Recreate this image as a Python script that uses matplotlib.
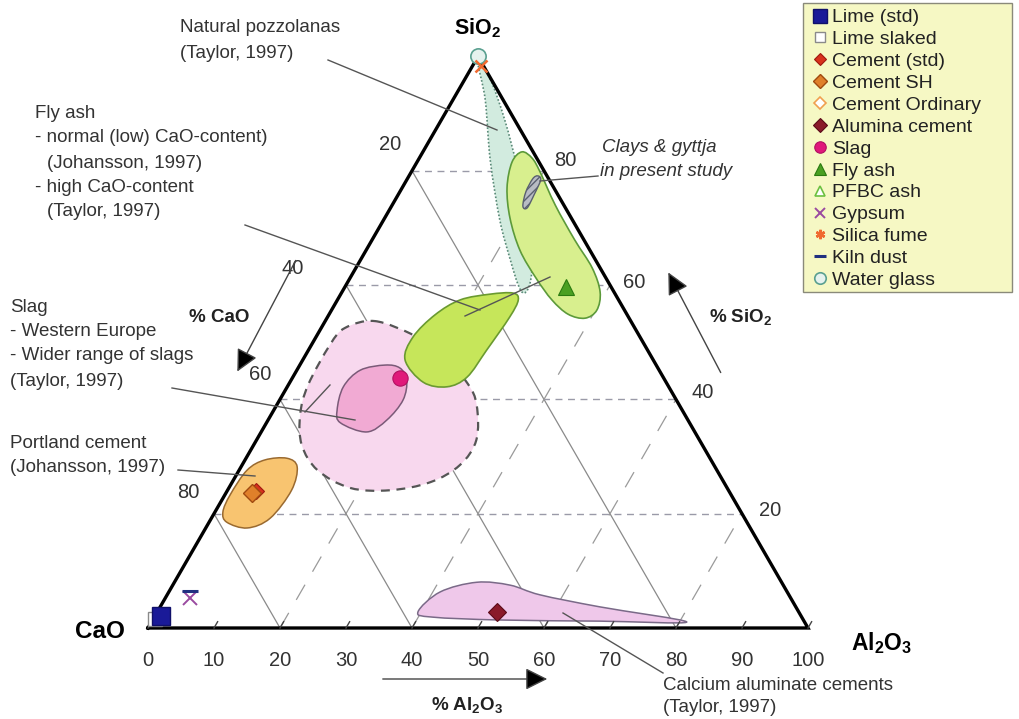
import numpy as np
import matplotlib
matplotlib.use("Agg")
import matplotlib.pyplot as plt
from matplotlib.path import Path
from matplotlib.patches import PathPatch, Rectangle, FancyArrowPatch
from matplotlib.lines import Line2D

plt.rcParams['font.family'] = ['Liberation Sans', 'DejaVu Sans']
plt.rcParams['mathtext.fontset'] = 'custom'
plt.rcParams['mathtext.rm'] = 'Liberation Sans'
plt.rcParams['mathtext.bf'] = 'Liberation Sans:bold'

# ---- compositions (Al2O3 %, SiO2 %); CaO is the remainder to 100 % ----
pozzolana_al2o3 = [0.5, 4.9, 10.9, 17.6, 22.7, 26.1, 27.7, 27.7, 25.6, 21.3, 16.0, 9.6, 3.7]
pozzolana_sio2 = [99.0, 92.4, 81.9, 71.4, 64.4, 60.0, 58.6, 60.4, 65.3, 72.3, 80.1, 88.9, 96.2]

flyash_low_al2o3 = [15.0, 17.1, 19.5, 24.7, 30.7, 35.8, 39.1, 40.2, 39.1, 36.2, 32.5, 28.2, 23.3, 19.0, 15.9, 14.4]
flyash_low_sio2 = [83.3, 82.2, 79.8, 74.0, 67.9, 63.0, 58.8, 55.6, 54.2, 54.9, 57.4, 61.2, 66.1, 71.7, 77.0, 81.5]

flyash_high_al2o3 = [26.0, 27.4, 27.6, 27.0, 26.4, 24.2, 20.2, 15.5, 14.7, 16.1, 18.6, 22.6]
flyash_high_sio2 = [58.6, 57.4, 54.4, 48.6, 43.9, 42.2, 43.0, 46.9, 50.9, 54.8, 57.4, 58.4]

slag_wide_al2o3 = [7.5, 14.5, 20.1, 26.9, 30.3, 33.3, 33.0, 30.0, 24.6, 18.4, 11.9, 7.3, 4.4, 3.0, 2.8, 3.6]
slag_wide_sio2 = [53.7, 51.3, 48.3, 42.9, 39.0, 32.9, 28.5, 25.5, 24.1, 24.5, 27.6, 32.0, 37.3, 42.5, 49.5, 52.5]

slag_we_al2o3 = [9.6, 8.5, 9.6, 11.2, 16.0, 18.0, 18.7, 17.5, 15.4, 12.9]
slag_we_sio2 = [45.1, 42.2, 38.1, 35.9, 34.3, 36.4, 39.9, 43.4, 45.5, 46.0]

portland_al2o3 = [1.2, 3.0, 6.2, 8.5, 9.7, 8.9, 6.3, 2.7, 1.2, 0.8]
portland_sio2 = [27.6, 29.4, 29.7, 28.2, 24.1, 19.2, 17.5, 18.5, 20.3, 23.3]

ca_aluminate_al2o3 = [39.5, 41.1, 45.8, 51.1, 56.5, 66.6, 81.1, 67.9, 52.6, 42.2]
ca_aluminate_sio2 = [2.8, 6.3, 8.0, 7.5, 5.8, 3.7, 1.05, 1.2, 1.4, 1.9]

clay_al2o3 = [19.5, 20.3, 20.6, 20.7, 19.9, 19.1, 19.0]
clay_sio2 = [79.1, 78.4, 75.8, 73.5, 73.8, 76.3, 78.6]

# ---- individual materials ----
material_names = ['Lime (std)', 'Lime slaked', 'Cement (std)', 'Cement SH', 'Cement Ordinary',
                  'Alumina cement', 'Slag', 'Fly ash', 'PFBC ash', 'Gypsum', 'Silica fume',
                  'Kiln dust', 'Water glass']
material_al2o3 = [0.9, 0.2, 4.3, 4.0, None, 51.5, 16.3, 33.5, None, 3.7, 1.3, 3.1, 0.0]
material_sio2 = [2.1, 1.6, 24.0, 23.6, None, 2.8, 43.7, 59.7, None, 5.2, 98.3, 6.5, 100.0]

grid_values = [20, 40, 60, 80]
bottom_ticks = list(range(0, 101, 10))

# marker style per material: (marker, size, face, edge, edge width, zorder)
styles = {
    'Lime (std)': ('s', 13, '#1a1a98', '#10106a', 1.0, 6.5),
    'Lime slaked': ('s', 10, 'white', '#8a8a8a', 1.0, 6.0),
    'Cement (std)': ('D', 8, '#d8321c', '#a01810', 0.8, 6.0),
    'Cement SH': ('D', 9, '#e0802a', '#a04a10', 1.0, 6.2),
    'Cement Ordinary': ('D', 8, 'white', '#f0a050', 1.2, 6.0),
    'Alumina cement': ('D', 9, '#8a1a2a', '#5a0a18', 0.8, 6.0),
    'Slag': ('o', 11, '#e0187a', '#b01060', 0.8, 6.0),
    'Fly ash': ('^', 11, '#4aa022', '#2a7a10', 0.8, 6.0),
    'PFBC ash': ('^', 10, 'white', '#6cc040', 1.2, 6.0),
    'Gypsum': ('x', 10, '#9a4aa0', '#9a4aa0', 1.4, 6.0),
    'Silica fume': ('x', 9, '#f06a30', '#f06a30', 1.8, 6.2),
    'Kiln dust': ('_', 11, '#203080', '#203080', 2.2, 6.0),
    'Water glass': ('o', 11, '#e6f2ee', '#5aa090', 1.2, 6.0),
}
legend_markers = {'Silica fume': (6, 2, 0)}

S3 = np.sqrt(3) / 2


def tern(al, si):
    al = np.asarray(al, float)
    si = np.asarray(si, float)
    return al + si / 2.0, si * S3


def smooth_path(al, si):
    x, y = tern(al, si)
    pts = np.column_stack([x, y])
    n = len(pts)
    verts = [pts[0]]
    codes = [Path.MOVETO]
    for i in range(n):
        p0, p1, p2, p3 = pts[(i - 1) % n], pts[i], pts[(i + 1) % n], pts[(i + 2) % n]
        verts += [p1 + (p2 - p0) / 6.0, p2 - (p3 - p1) / 6.0, p2]
        codes += [Path.CURVE4] * 3
    verts.append(pts[0])
    codes.append(Path.CLOSEPOLY)
    return Path(verts, codes)


W, H = 1019, 719
fig = plt.figure(figsize=(W / 100, H / 100), dpi=100)
ax = fig.add_axes([0, 0, 1, 1])
ax.set_xlim(-148 / 6.6, (W - 148) / 6.6)
ax.set_ylim((628 - H) / 6.6, 628 / 6.6)
ax.axis('off')


def fp(px, py):
    return px / W, 1 - py / H


# ---- grid ----
for v in grid_values:
    # constant SiO2 (horizontal, short dashes)
    x, y = tern([0, 100 - v], [v, v])
    ax.plot(x, y, color='#9a9aa8', lw=1.0, ls=(0, (5, 4)), zorder=1)
    # constant CaO (solid, parallel to the right edge)
    x, y = tern([100 - v, 0], [0, 100 - v])
    ax.plot(x, y, color='#8a8a8a', lw=0.9, zorder=1)
    # constant Al2O3 (long dashes, parallel to the left edge)
    x, y = tern([v, v], [0, 100 - v])
    ax.plot(x, y, color='#9a9a9a', lw=0.9, ls=(0, (14, 12)), zorder=1)

# ---- composition fields ----
fields = [
    (pozzolana_al2o3, pozzolana_sio2, '#d2ebdf', '#5a8a78', (0, (1, 1.2)), 1.2),
    (flyash_low_al2o3, flyash_low_sio2, '#d8ef8e', '#5c9a3a', '-', 1.2),
    (flyash_high_al2o3, flyash_high_sio2, '#c6e65a', '#6a9a30', '-', 1.2),
    (slag_wide_al2o3, slag_wide_sio2, '#f8d8ee', '#555555', (0, (4, 3)), 1.6),
    (slag_we_al2o3, slag_we_sio2, '#f1aad3', '#7a5a78', '-', 1.1),
    (portland_al2o3, portland_sio2, '#f8c470', '#9a6a30', '-', 1.1),
    (ca_aluminate_al2o3, ca_aluminate_sio2, '#efc8ea', '#7a6a88', '-', 1.1),
]
order = [3, 0, 1, 2, 4, 5, 6]
for k, idx in enumerate(order):
    al, si, fc, ec, ls, lw = fields[idx]
    ax.add_patch(PathPatch(smooth_path(al, si), facecolor=fc, edgecolor=ec,
                           ls=ls, lw=lw, zorder=2 + k * 0.1))

ax.add_patch(PathPatch(smooth_path(clay_al2o3, clay_sio2), facecolor='#b8bcc4',
                       edgecolor='#5a6070', lw=1.0, hatch='////', zorder=3))

# ---- triangle frame and bottom ticks ----
x, y = tern([0, 100, 0, 0], [0, 0, 100, 0])
ax.plot(x, y, color='black', lw=2.4, solid_joinstyle='miter', zorder=5)
for t in bottom_ticks:
    x, y = tern([t, t], [0, 1.1])
    ax.plot(x, y, color='#444444', lw=1.0, zorder=5)

# ---- materials ----
for name, al, si in zip(material_names, material_al2o3, material_sio2):
    if al is None:
        continue
    m, ms, fc, ec, mew, z = styles[name]
    x, y = tern([al], [si])
    ax.plot(x, y, ls='none', marker=m, ms=ms, markerfacecolor=fc,
            markeredgecolor=ec, mew=mew, zorder=z, clip_on=False)

# ---- leader lines ----
leaders = [((328, 60), (497, 130)), ((245, 225), (480, 310)), ((465, 316), (550, 277)),
           ((540, 181), (598, 176)), ((172, 388), (355, 420)), ((305, 412), (330, 385)),
           ((178, 470), (255, 476)), ((663, 673), (563, 613))]
for a, b in leaders:
    fig.add_artist(Line2D([a[0] / W, b[0] / W], [1 - a[1] / H, 1 - b[1] / H],
                          color='#555555', lw=1.0, zorder=7))

# ---- labels ----
tc = '#333333'
fs = 13.5
note_lines = [
    (180, 28, 'Natural pozzolanas'), (180, 53, '(Taylor, 1997)'),
    (35, 113, 'Fly ash'), (35, 138, '- normal (low) CaO-content)'),
    (47, 163, '(Johansson, 1997)'), (35, 187, '- high CaO-content'),
    (47, 212, '(Taylor, 1997)'),
    (10, 307, 'Slag'), (10, 332, '- Western Europe'), (10, 356, '- Wider range of slags'),
    (10, 381, '(Taylor, 1997)'),
    (10, 444, 'Portland cement'), (10, 468, '(Johansson, 1997)'),
    (663, 685, 'Calcium aluminate cements'), (663, 708, '(Taylor, 1997)'),
]
for px, py, s in note_lines:
    fig.text(*fp(px, py), s, fontsize=fs, color=tc, ha='left', va='center')
fig.text(*fp(602, 148), 'Clays & gyttja', fontsize=fs, color=tc, style='italic', va='center')
fig.text(*fp(600, 172), 'in present study', fontsize=fs, color=tc, style='italic', va='center')

tfs = 14.5
for t in bottom_ticks:
    fig.text(*fp(148 + 6.6 * t, 661), str(t), fontsize=tfs, color=tc, ha='center', va='center')
for (px, py), s in zip([(390, 145), (293, 268), (260, 375), (188, 492)], ['20', '40', '60', '80']):
    fig.text(*fp(px, py), s, fontsize=tfs, color=tc, ha='center', va='center')
for (px, py), s in zip([(565, 160), (634, 283), (703, 392), (770, 510)], ['80', '60', '40', '20']):
    fig.text(*fp(px, py), s, fontsize=tfs, color=tc, ha='center', va='center')

fig.text(*fp(477, 28), r'SiO$_{\mathbf{2}}$', fontsize=15.5, fontweight='bold', ha='center', va='center')
fig.text(*fp(100, 631), 'CaO', fontsize=17.5, fontweight='bold', ha='center', va='center')
fig.text(*fp(882, 643), r'Al$_{\mathbf{2}}$O$_{\mathbf{3}}$', fontsize=16.5, fontweight='bold',
         ha='center', va='center')
fig.text(*fp(219, 318), '% CaO', fontsize=13.5, fontweight='bold', color='#222222', ha='center', va='center')
fig.text(*fp(741, 318), r'% SiO$_{\mathbf{2}}$', fontsize=13.5, fontweight='bold', color='#222222',
         ha='center', va='center')
fig.text(*fp(467, 706), r'% Al$_{\mathbf{2}}$O$_{\mathbf{3}}$', fontsize=13.5, fontweight='bold',
         color='#222222', ha='center', va='center')

for a, b in [((297, 258), (236, 374)), ((722, 375), (667, 270)), ((380, 679), (550, 679))]:
    fig.add_artist(FancyArrowPatch(
        fp(*a), fp(*b), transform=fig.transFigure, arrowstyle='-|>,head_length=9,head_width=4.5',
        facecolor='black', edgecolor='#444444', lw=1.0, mutation_scale=1.5, zorder=7))

# ---- legend ----
fig.add_artist(Rectangle(fp(803, 292), 209 / W, 289 / H, transform=fig.transFigure,
                         facecolor='#f6f8c4', edgecolor='#8a8a7a', lw=1.0, zorder=8))
handles = []
for name in material_names:
    m, ms, fc, ec, mew, z = styles[name]
    m = legend_markers.get(name, m)
    handles.append(Line2D([], [], ls='none', marker=m, ms=ms * 0.75, markerfacecolor=fc,
                          markeredgecolor=ec, mew=mew, label=name))
leg = fig.legend(handles=handles, loc='upper left', bbox_to_anchor=fp(802, -1),
                 frameon=False, fontsize=14, labelspacing=0.22, handlelength=0.8,
                 handletextpad=0.25, borderpad=0.0, labelcolor='#222222')
leg.set_zorder(9)

fig.savefig('out.png', dpi=100, facecolor='white')
